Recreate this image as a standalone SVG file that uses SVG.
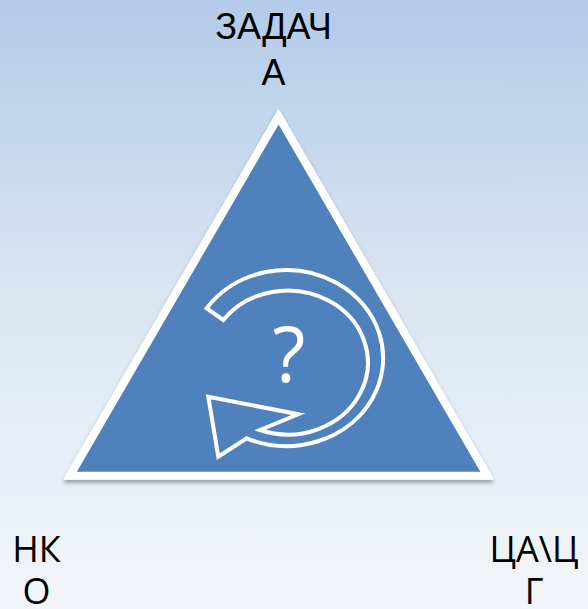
<svg xmlns="http://www.w3.org/2000/svg" width="588" height="609" viewBox="0 0 588 609">
  <defs>
    <linearGradient id="bg" x1="0" y1="0" x2="0" y2="1">
      <stop offset="0" stop-color="#b3cbe9"/>
      <stop offset="0.5" stop-color="#dce6f2"/>
      <stop offset="1" stop-color="#f3f6fa"/>
    </linearGradient>
    <filter id="shadow" x="-10%" y="-10%" width="120%" height="125%">
      <feDropShadow dx="0" dy="3" stdDeviation="2" flood-color="#000" flood-opacity="0.35"/>
    </filter>
  </defs>
  <style>
    .lbl { font-family: "Liberation Sans", Arial, sans-serif; font-size: 36px; fill: #000; text-anchor: middle; }
    .lbl2 { font-family: "Open Sans", "Noto Sans", sans-serif; font-size: 36px; fill: #000; text-anchor: middle; }
    .tri { fill: #4f81bd; stroke: #fff; stroke-width: 8; stroke-linejoin: miter; stroke-miterlimit: 10; }
    .icon { fill: none; stroke: #fff; stroke-width: 4; stroke-linejoin: miter; stroke-miterlimit: 10; }
    .q { font-family: "Open Sans", "Noto Sans", sans-serif; font-size: 76px; fill: #fff; text-anchor: middle; }
  </style>

  <!-- backdrop -->
  <rect x="0" y="0" width="588" height="609" fill="url(#bg)"/>

  <!-- central triangle with cycle icon -->
  <g id="triangle">
    <polygon class="tri" filter="url(#shadow)" points="278.6,116.5 487.3,475.7 69.9,475.7"/>
    <g id="cycle-icon">
      <path class="icon" d="M206.7,308.3 A96.7,88 0 1 1 246.7,438.3 L218.3,456.7 L208.3,396.7 L298.3,414.3 L260,430 A80,72 0 1 0 223.3,320 Z"/>
      <text class="q" x="289" y="382">?</text>
    </g>
  </g>

  <!-- corner labels -->
  <g id="label-top">
    <text class="lbl" x="273.5" y="38.5">ЗАДАЧ</text>
    <text class="lbl" x="273.5" y="84.5">А</text>
  </g>
  <g id="label-left">
    <text class="lbl2" x="36.5" y="561.5">НК</text>
    <text class="lbl2" x="36.5" y="604">О</text>
  </g>
  <g id="label-right">
    <text class="lbl2" x="534" y="561.5">ЦА\Ц</text>
    <text class="lbl2" x="534" y="604">Г</text>
  </g>

  <g id="connectors"/>
</svg>
